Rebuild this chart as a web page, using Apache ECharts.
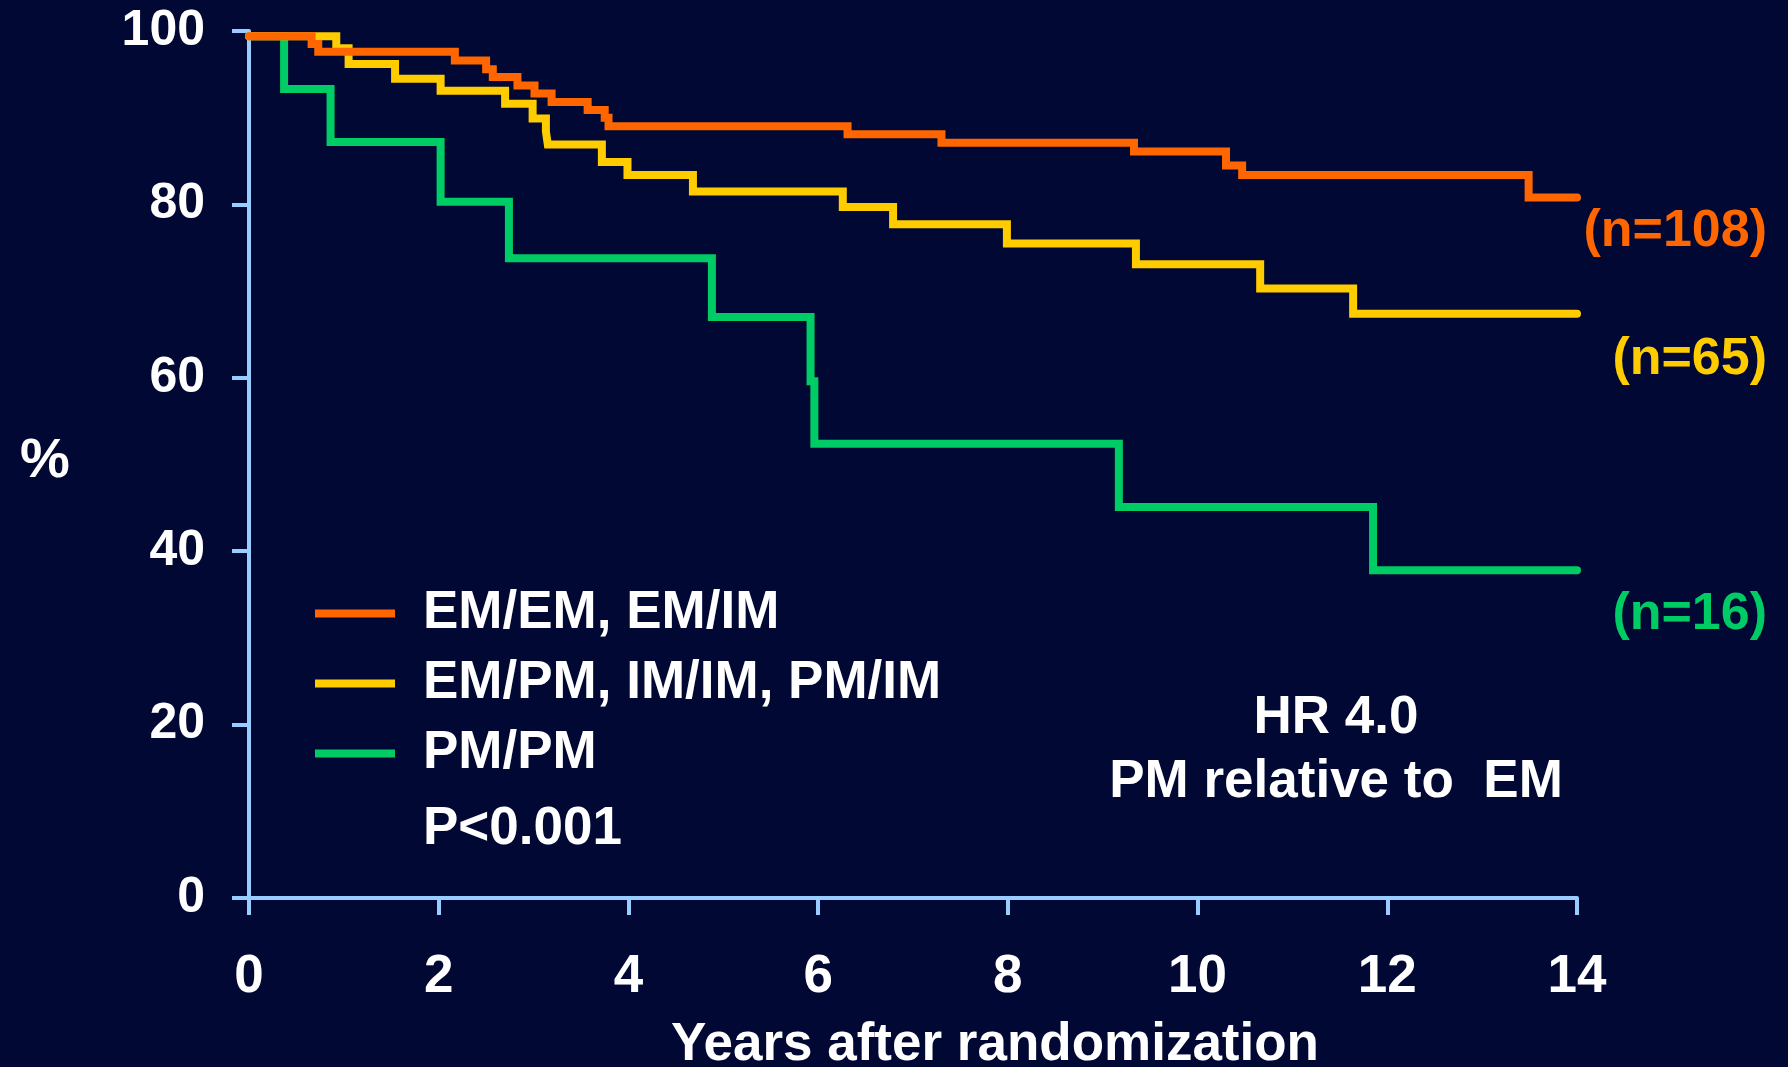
<!DOCTYPE html>
<html>
<head>
<meta charset="utf-8">
<script src="https://cdn.jsdelivr.net/npm/echarts@6/dist/echarts.min.js"></script>
<style>
html,body{margin:0;padding:0;background:#000833;}
#chart{width:1788px;height:1067px;}
</style>
</head>
<body>
<div id="chart"></div>
<script>
// ---- data ----
var seriesNames = ['EM/EM, EM/IM', 'EM/PM, IM/IM, PM/IM', 'PM/PM'];
var groupSizes = ['(n=108)', '(n=65)', '(n=16)'];
var xTicks = [0, 2, 4, 6, 8, 10, 12, 14];
var yTicks = [0, 20, 40, 60, 80, 100];

// [years, % event-free] — Kaplan-Meier steps
var emTimes   = [0, 0.66, 0.73, 2.17, 2.50, 2.57, 2.83, 3.01, 3.19, 3.57, 3.75, 3.79, 6.31, 7.30, 9.33, 10.30, 10.47, 13.49, 14];
var emValues  = [99.4, 98.5, 97.6, 96.6, 95.6, 94.7, 93.7, 92.8, 91.8, 90.9, 90.0, 89.0, 88.1, 87.1, 86.1, 84.5, 83.4, 80.8, 80.8];

var midTimes  = [0, 0.92, 1.05, 1.54, 2.02, 2.70, 2.99, 3.13, 3.15, 3.72, 3.99, 4.68, 6.26, 6.79, 7.99, 9.35, 10.66, 11.64, 14];
var midValues = [99.4, 98.0, 96.2, 94.5, 93.1, 91.6, 89.9, 88.4, 86.9, 84.9, 83.4, 81.5, 79.7, 77.7, 75.5, 73.1, 70.3, 67.4, 67.4];

var pmTimes   = [0, 0.37, 0.86, 2.02, 2.74, 4.88, 5.92, 5.96, 9.17, 11.85, 14];
var pmValues  = [99.4, 93.3, 87.2, 80.3, 73.8, 67.0, 59.6, 52.4, 45.1, 37.8, 37.8];

var colors = ['#FF6600', '#FFCC00', '#00CC66'];
var axisColor = '#99CCFF';
var FONT = '"Liberation Sans", Arial, sans-serif';

function pairs(t, v) { return t.map(function (x, i) { return [x, v[i]]; }); }

function kmSeries(idx, t, v, dy) {
  return {
    name: seriesNames[idx],
    type: 'line',
    step: 'end',
    data: pairs(t, v),
    showSymbol: false,
    symbol: 'none',
    color: colors[idx],
    lineStyle: { color: colors[idx], width: 8, cap: 'round', join: 'miter' },
    endLabel: {
      show: true,
      formatter: groupSizes[idx],
      color: colors[idx],
      fontFamily: FONT,
      fontWeight: 'bold',
      fontSize: 52,
      align: 'right',
      verticalAlign: 'middle',
      distance: 5,
      offset: [185, dy]
    },
    emphasis: { disabled: true }
  };
}

var chart = echarts.init(document.getElementById('chart'), null, { renderer: 'canvas' });
chart.setOption({
  backgroundColor: '#000833',
  animation: false,
  grid: { left: 249, right: 211, top: 31, bottom: 169, containLabel: false },
  xAxis: {
    type: 'value', min: xTicks[0], max: xTicks[xTicks.length - 1], interval: 2,
    axisLine: { lineStyle: { color: axisColor, width: 4, cap: 'round' } },
    axisTick: { show: true, length: 17, lineStyle: { color: axisColor, width: 4 } },
    splitLine: { show: false },
    axisLabel: { color: '#FFFFFF', fontFamily: FONT, fontWeight: 'bold', fontSize: 53, margin: 53 }
  },
  yAxis: {
    type: 'value', min: yTicks[0], max: yTicks[yTicks.length - 1], interval: 20,
    axisLine: { show: true, lineStyle: { color: axisColor, width: 4, cap: 'round' } },
    axisTick: { show: true, length: 17, lineStyle: { color: axisColor, width: 4 } },
    splitLine: { show: false },
    axisLabel: { color: '#FFFFFF', fontFamily: FONT, fontWeight: 'bold', fontSize: 50, margin: 44 }
  },
  legend: {
    data: seriesNames,
    orient: 'vertical',
    left: 310,
    top: 582,
    itemWidth: 80,
    itemHeight: 8,
    itemGap: 17,
    icon: 'rect',
    selectedMode: false,
    textStyle: { color: '#FFFFFF', fontFamily: FONT, fontWeight: 'bold', fontSize: 53, lineHeight: 52, padding: [0, 0, 0, 23] }
  },
  graphic: [
    { type: 'text', silent: true, style: { text: '%', x: 45, y: 462, fill: '#FFFFFF', font: 'bold 56px ' + FONT, align: 'center', verticalAlign: 'middle', textAlign: 'center', textVerticalAlign: 'middle' } },
    { type: 'text', silent: true, style: { text: 'Years after randomization', x: 995, y: 1045, fill: '#FFFFFF', font: 'bold 53px ' + FONT, align: 'center', verticalAlign: 'middle', textAlign: 'center', textVerticalAlign: 'middle' } },
    { type: 'text', silent: true, style: { text: 'P<0.001', x: 423, y: 829, fill: '#FFFFFF', font: 'bold 53px ' + FONT, align: 'left', verticalAlign: 'middle', textAlign: 'left', textVerticalAlign: 'middle' } },
    { type: 'text', silent: true, style: { text: 'HR 4.0', x: 1336, y: 718, fill: '#FFFFFF', font: 'bold 53px ' + FONT, align: 'center', verticalAlign: 'middle', textAlign: 'center', textVerticalAlign: 'middle' } },
    { type: 'text', silent: true, style: { text: 'PM relative to  EM', x: 1336, y: 782, fill: '#FFFFFF', font: 'bold 53px ' + FONT, align: 'center', verticalAlign: 'middle', textAlign: 'center', textVerticalAlign: 'middle' } }
  ],
  series: [
    kmSeries(2, pmTimes, pmValues, 44),
    kmSeries(1, midTimes, midValues, 46),
    kmSeries(0, emTimes, emValues, 34)
  ]
});
</script>
</body>
</html>
